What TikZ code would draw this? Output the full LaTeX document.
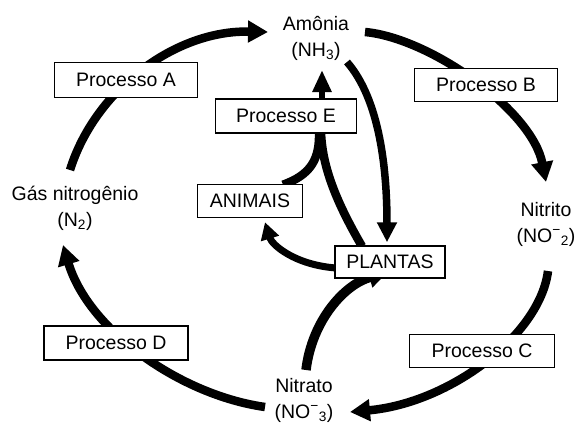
\documentclass[tikz,border=0pt]{standalone}
\usepackage{fontspec}
\setmainfont{Liberation Sans}
\usetikzlibrary{arrows.meta,backgrounds,calc}
\begin{document}
\begin{tikzpicture}[x=1pt,y=-1pt,
  lbl/.style={inner sep=0pt, align=center, font=\fontsize{19.5}{26}\selectfont},
  box/.style={draw, line width=1.5pt, fill=white, inner sep=0pt, font=\fontsize{19.5}{23}\selectfont},
  flow/.style={line width=8.5pt, -{Triangle[length=20pt,width=21pt]}},
  inflow/.style={line width=7.5pt, -{Triangle[length=20pt,width=19pt]}},
  band/.style={line width=8.5pt}]
\useasboundingbox (0,0) rectangle (576,426);
% labels
\node[lbl] (amonia) at (316,38) {Amônia\\(NH\textsubscript{3})};
\node[lbl] (n2) at (75,208) {Gás nitrogênio\\(N\textsubscript{2})};
\node[lbl] (nitrito) at (546,224) {Nitrito\\(NO\textsuperscript{−}\textsubscript{2})};
\node[lbl] (nitrato) at (304,400) {Nitrato\\(NO\textsuperscript{−}\textsubscript{3})};
% boxes
\node[box, minimum width=143pt, minimum height=35pt] (pA) at (126,80) {Processo A};
\node[box, minimum width=143pt, minimum height=33pt] (pB) at (486,85) {Processo B};
\node[box, minimum width=141pt, minimum height=34pt] (pE) at (286,116) {Processo E};
\node[box, minimum width=105pt, minimum height=33pt] (animais) at (250,201) {ANIMAIS};
\node[box, minimum width=110pt, minimum height=32pt] (plantas) at (390,262) {PLANTAS};
\node[box, minimum width=145pt, minimum height=33pt] (pC) at (482,351) {Processo C};
\node[box, minimum width=144pt, minimum height=34pt] (pD) at (116,343) {Processo D};
\begin{pgfonlayer}{background}
\fill[white] (0,0) rectangle (576,426);
% main cycle
\draw[flow] ($(n2)+(-5,-38)$) .. controls (95,90) and (175,30) .. ($(amonia)+(-48,-6)$);
\draw[flow] ($(amonia)+(49,-6)$) .. controls (430,38) and (532,110) .. ($(nitrito)+(0,-42)$);
\draw[flow] ($(nitrito)+(2,47)$) .. controls (540,335) and (450,403) .. ($(nitrato)+(46,12)$);
\draw[flow] ($(nitrato)+(-39,7)$) .. controls (180,395) and (88.5,330) .. ($(n2)+(-12,37)$);
% inner
\draw[inflow] ($(amonia)+(31,24)$) .. controls (380,100) and (387,170) .. ($(plantas.north)+(-3,-3)$);
\draw[line width=6.5pt, -{Triangle[length=22pt,width=18pt]}] ($(pE.north)+(36,5)$) -- ($(amonia)+(6,32)$);
\draw[band] ($(plantas.north)+(-28,1)$) .. controls (335,200) and (322,165) .. ($(pE.south)+(35,-2)$);
\draw[band] ($(animais.north)+(33,1)$) .. controls (310,175) and (320,160) .. ($(pE.south)+(33,-2)$);
\draw[line width=7pt, -{Triangle[length=17pt,width=18pt]}] ($(plantas.west)+(2,6)$) .. controls (295,265) and (272,245) .. ($(animais.south)+(15,4)$);
\draw[line width=9.5pt, -{Triangle[length=18pt,width=20pt]}] ($(nitrato)+(2,-30)$) .. controls (312,320) and (345,284) .. ($(plantas.south)+(-3,-6)$);
\end{pgfonlayer}
\end{tikzpicture}
\end{document}
